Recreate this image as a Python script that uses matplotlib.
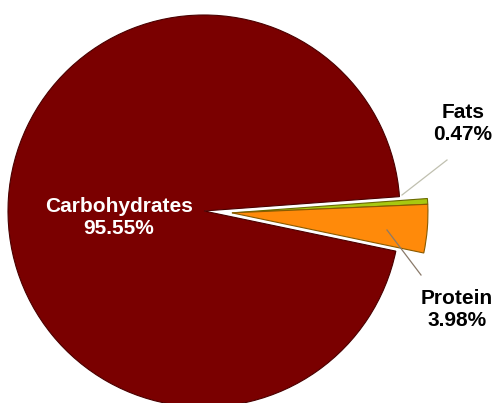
import numpy as np
import matplotlib.pyplot as plt

labels = ["Fats", "Protein", "Carbohydrates"]
values = [0.47, 3.98, 95.55]
colors = ["#A8C810", "#FF8A0A", "#7A0000"]
edges = ["#6a6a00", "#8a5a00", "#4a0000"]

W, H = 496, 403
fig = plt.figure(figsize=(W / 100, H / 100), dpi=100)
ax = fig.add_axes([0, 0, 1, 1])

# pie in pixel-like data units
cx, cy, r = 204, H - 211, 196
start = 4.2
wedges, _ = ax.pie(values, colors=colors, startangle=start,
                   counterclock=False, center=(cx, cy), radius=r,
                   wedgeprops=dict(linewidth=0.8))
for w, ec in zip(wedges, edges):
    w.set_edgecolor(ec)

# pull the two small slices out together as one block
offset = 28
small = values[0] + values[1]
mid = np.deg2rad(start - 360 * small / sum(values) / 2)
for w in wedges[:2]:
    w.set_center((cx + offset * np.cos(mid), cy + offset * np.sin(mid)))

ax.set_xlim(0, W)
ax.set_ylim(0, H)
ax.set_aspect("equal")
ax.axis("off")

font = "Liberation Sans"
style = dict(ha="center", va="center", fontsize=15, fontweight="bold",
             family=font, linespacing=1.2)
ax.text(119, H - 217, f"{labels[2]}\n{values[2]:.2f}%", color="white", **style)
ax.text(463, H - 124, f"{labels[0]}\n{values[0]:.2f}%", color="black", **style)
ax.text(457, H - 310, f"{labels[1]}\n{values[1]:.2f}%", color="black", **style)

# leader lines
ax.plot([402, 447], [H - 195, H - 160], color="#c0c0b0", lw=0.9)
ax.plot([387, 421], [H - 230, H - 275], color="#8a7a6a", lw=0.9)

fig.savefig("out.png", dpi=100)
